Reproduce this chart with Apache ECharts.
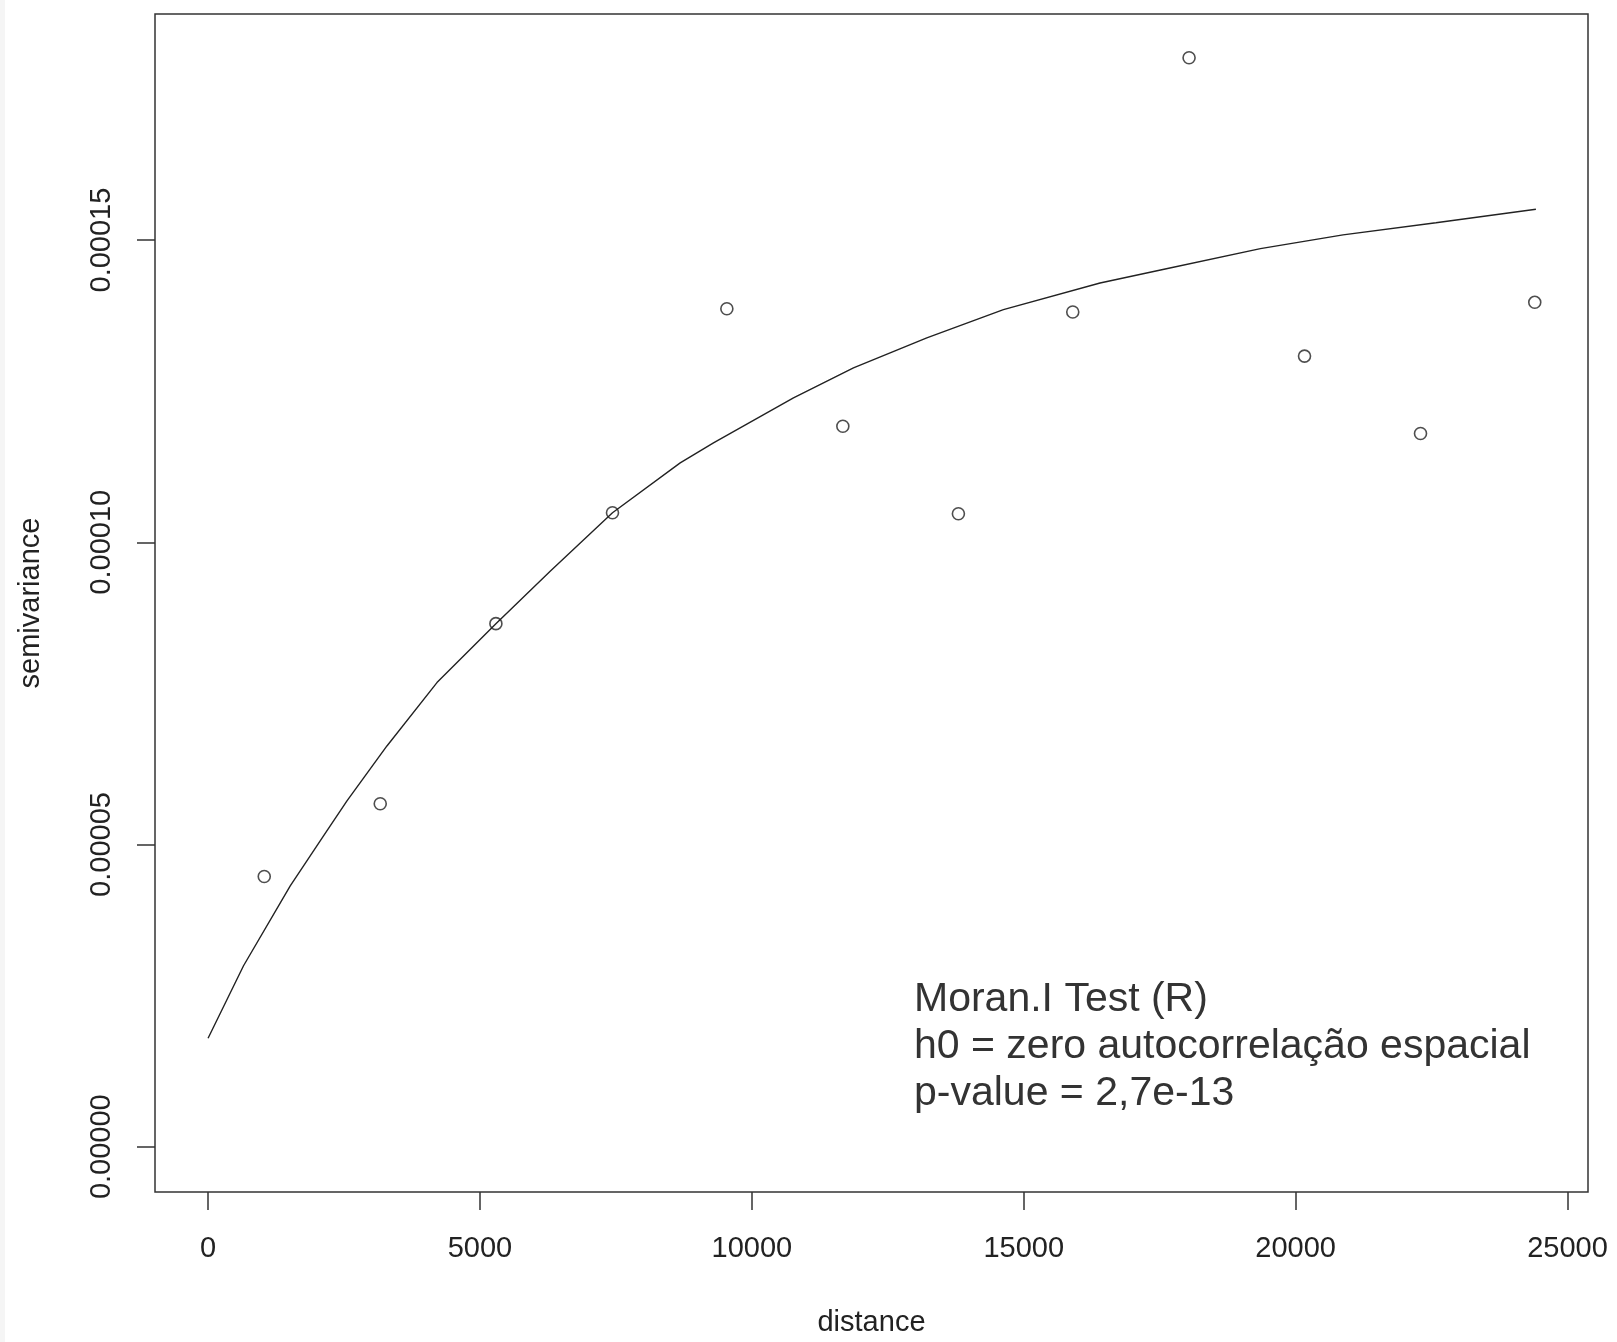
<!DOCTYPE html>
<html>
<head>
<meta charset="utf-8">
<title>semivariance</title>
<script src="https://cdn.jsdelivr.net/npm/echarts@6/dist/echarts.min.js"></script>
<style>
  html, body { margin: 0; padding: 0; background: #fff; }
  #chart { width: 1617px; height: 1342px; }
</style>
</head>
<body>
<div id="chart"></div>
<script>
// empirical semivariogram points (distance, semivariance)
const lagDist = [1033, 3166, 5293, 7437, 9540, 11673, 13798, 15901, 18040, 20163, 22296, 24397];
const lagGamma = [4.47e-5, 5.673e-5, 8.653e-5, 10.488e-5, 13.864e-5, 11.919e-5, 10.471e-5, 13.81e-5, 18.017e-5, 13.08e-5, 11.8e-5, 13.97e-5];

// fitted model curve
const fitDist = [0, 652, 1511, 2123, 2554, 3289, 4209, 5293, 6291, 7437, 8682, 9294, 10765, 11868, 13217, 14626, 16403, 17580, 19352, 20871, 22580, 24418];
const fitGamma = [1.793e-5, 2.993e-5, 4.316e-5, 5.142e-5, 5.721e-5, 6.63e-5, 7.678e-5, 8.653e-5, 9.522e-5, 10.488e-5, 11.314e-5, 11.645e-5, 12.388e-5, 12.884e-5, 13.38e-5, 13.848e-5, 14.289e-5, 14.517e-5, 14.858e-5, 15.086e-5, 15.286e-5, 15.51e-5];

const xTicks = [0, 5000, 10000, 15000, 20000, 25000];
const yTicks = [0, 0.00005, 0.0001, 0.00015];

const noteLines = ['Moran.I Test (R)', 'h0 = zero autocorrelação espacial', 'p-value = 2,7e-13'];

const font = "'Liberation Sans', Arial, sans-serif";
const ink = '#222';

const chart = echarts.init(document.getElementById('chart'));

const option = {
    backgroundColor: '#fff',
    animation: false,
    grid: {
        left: 155, right: 29, top: 14, bottom: 149,
        show: true,
        borderColor: '#333',
        borderWidth: 1.5,
        backgroundColor: 'transparent'
    },
    xAxis: {
        type: 'value',
        min: -976,
        max: 25376,
        name: 'distance',
        nameLocation: 'middle',
        nameGap: 116,
        nameTextStyle: { fontFamily: font, fontSize: 29, color: ink },
        axisLine: { show: false, onZero: false },
        splitLine: { show: false },
        axisTick: {
            show: true, inside: false, length: 18,
            customValues: xTicks,
            lineStyle: { color: '#333', width: 1.5 }
        },
        axisLabel: {
            customValues: xTicks,
            margin: 42,
            fontFamily: font, fontSize: 29, color: ink,
            formatter: v => String(v)
        }
    },
    yAxis: {
        type: 'value',
        min: -0.0000075,
        max: 0.0001874,
        name: 'semivariance',
        nameLocation: 'middle',
        nameGap: 110,
        nameRotate: 90,
        nameTextStyle: { fontFamily: font, fontSize: 29, color: ink },
        axisLine: { show: false, onZero: false },
        splitLine: { show: false },
        axisTick: {
            show: true, inside: false, length: 18,
            customValues: yTicks,
            lineStyle: { color: '#333', width: 1.5 }
        },
        axisLabel: {
            customValues: yTicks,
            rotate: 90,
            margin: 39,
            fontFamily: font, fontSize: 29, color: ink,
            formatter: v => v.toFixed(5)
        }
    },
    series: [
        {
            type: 'line',
            data: fitDist.map((d, i) => [d, fitGamma[i]]),
            showSymbol: false,
            smooth: false,
            lineStyle: { color: '#222', width: 1.4 },
            z: 2
        },
        {
            type: 'scatter',
            data: lagDist.map((d, i) => [d, lagGamma[i]]),
            symbol: 'circle',
            symbolSize: 12,
            itemStyle: { color: 'rgba(0,0,0,0)', borderColor: '#222', borderWidth: 1.6 },
            z: 3
        }
    ],
    graphic: [
        {
            type: 'rect',
            left: 0, top: 0,
            shape: { width: 5, height: 1342 },
            style: { fill: '#f5f5f5' },
            silent: true
        },
        {
            type: 'text',
            left: 914,
            top: 976,
            style: {
                text: noteLines.join('\n'),
                font: '41px ' + font,
                lineHeight: 47,
                fill: '#333'
            }
        }
    ]
};

chart.setOption(option);
</script>
</body>
</html>
